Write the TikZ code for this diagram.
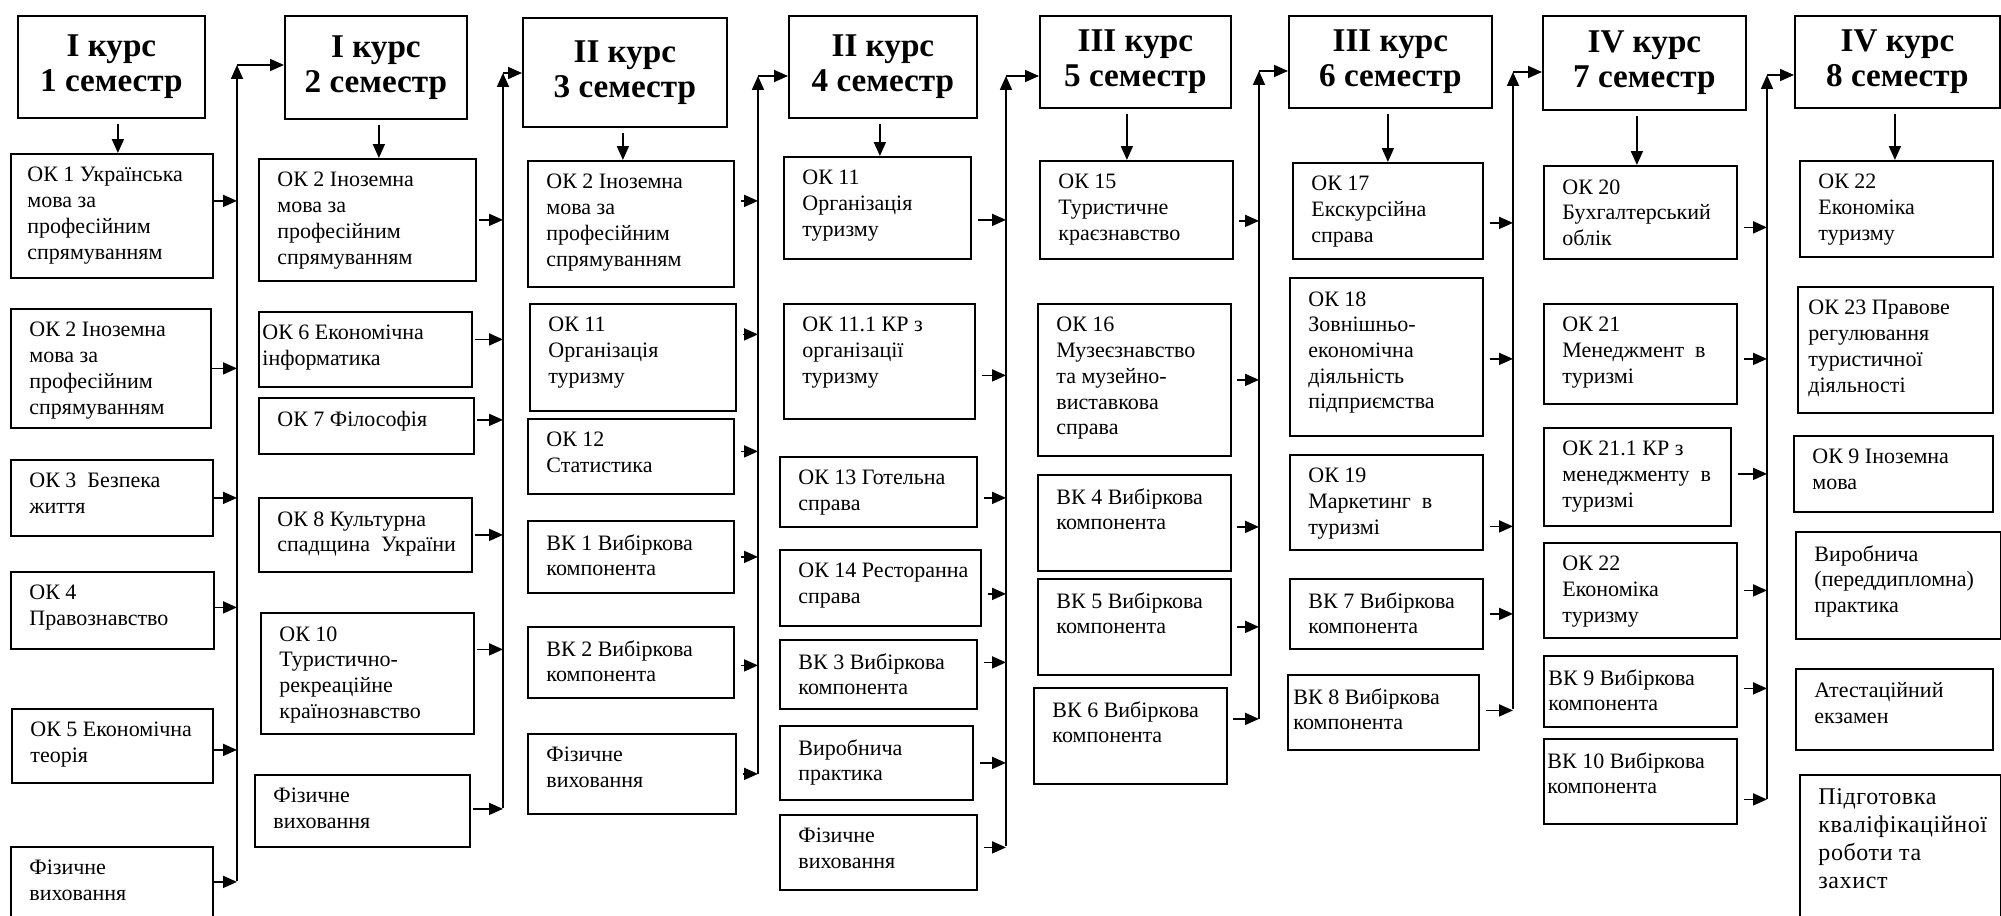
\documentclass[tikz,border=0pt]{standalone}
\usepackage{fontspec}
\setmainfont{Liberation Serif}
\newfontfamily\spacedfont[LetterSpace=2.5]{Liberation Serif}
\usetikzlibrary{arrows.meta, calc}
\tikzset{hdr/.style = {draw, line width=0.9pt, anchor=north west,
            align=center, inner sep=0pt,
            font=\fontsize{16.6}{17.5}\selectfont\bfseries},
    subj/.style = {draw, line width=0.9pt, anchor=north west, inner sep=0pt},
    subjtext/.style = {anchor=north west, align=left,
            inner xsep=9.5pt, inner ysep=7pt,
            font=\fontsize{11}{12.85}\selectfont},
    arr/.style = {-{Triangle[length=7pt,width=6pt]}, line width=0.9pt}}
% boxes: name, left, top, right, bottom (picture pixels), text
\newcommand\semhead[6]{%
  \node[hdr, minimum width={(#4-#2)*0.5pt}, minimum height={(#5-#3)*0.5pt}]
    (#1) at (#2,#3) {#6};}
\newcommand\subjbox[7][]{%
  \node[subj, minimum width={(#5-#3)*0.5pt}, minimum height={(#6-#4)*0.5pt}]
    (#2) at (#3,#4) {};
  \node[subjtext, #1] (#2t) at (#2.north west) {#7};}

\begin{document}
\begin{tikzpicture}[x=0.5pt, y=-0.5pt]
\useasboundingbox (0,0) rectangle (2001,915);

% semester 1
\semhead{h1}{17}{15}{204}{117}{I курс\\1 семестр}
\subjbox[inner xsep=8.5pt]{c1a}{10}{153}{212}{277}{ОК 1 Українська\\мова за\\професійним\\спрямуванням}
\subjbox{c1b}{10}{308}{210}{427}{ОК 2 Іноземна\\мова за\\професійним\\спрямуванням}
\subjbox{c1c}{10}{459}{212}{535}{ОК 3~~Безпека\\життя}
\subjbox{c1d}{10}{571}{213}{648}{ОК 4\\Правознавство}
\subjbox{c1e}{11}{708}{212}{782}{ОК 5 Економічна\\теорія}
\subjbox{c1f}{10}{846}{212}{930}{Фізичне\\виховання}

% semester 2
\semhead{h2}{284}{15}{466}{118}{I курс\\2 семестр}
\subjbox{c2a}{258}{158}{475}{280}{ОК 2 Іноземна\\мова за\\професійним\\спрямуванням}
\subjbox[inner xsep=2pt]{c2b}{258}{311}{471}{386}{ОК 6 Економічна\\інформатика}
\subjbox{c2c}{258}{397}{473}{453}{ОК 7 Філософія}
\subjbox{c2d}{258}{497}{471}{571}{ОК 8 Культурна\\спадщина~~України}
\subjbox{c2e}{260}{612}{473}{733}{ОК 10\\Туристично-\\рекреаційне\\країнознавство}
\subjbox{c2f}{254}{774}{469}{846}{Фізичне\\виховання}

% semester 3
\semhead{h3}{522}{17}{726}{126}{II курс\\3 семестр}
\subjbox{c3a}{527}{160}{733}{286}{ОК 2 Іноземна\\мова за\\професійним\\спрямуванням}
\subjbox{c3b}{529}{303}{735}{410}{ОК 11\\Організація\\туризму}
\subjbox{c3c}{527}{418}{733}{493}{ОК 12\\Статистика}
\subjbox{c3d}{527}{520}{733}{592}{ВК 1 Вибіркова\\компонента}
\subjbox{c3e}{527}{626}{733}{697}{ВК 2 Вибіркова\\компонента}
\subjbox{c3f}{527}{733}{735}{813}{Фізичне\\виховання}

% semester 4
\semhead{h4}{788}{15}{976}{117}{II курс\\4 семестр}
\subjbox{c4a}{783}{156}{970}{258}{ОК 11\\Організація\\туризму}
\subjbox{c4b}{783}{303}{974}{418}{ОК 11.1 КР з\\організації\\туризму}
\subjbox{c4c}{779}{456}{976}{526}{ОК 13 Готельна\\справа}
\subjbox{c4d}{779}{549}{980}{625}{ОК 14 Ресторанна\\справа}
\subjbox{c4e}{779}{639}{976}{708}{ВК 3 Вибіркова\\компонента}
\subjbox{c4f}{779}{725}{972}{799}{Виробнича\\практика}
\subjbox{c4g}{779}{814}{976}{889}{Фізичне\\виховання}

% semester 5
\semhead{h5}{1039}{15}{1230}{107}{III курс\\5 семестр}
\subjbox{c5a}{1039}{160}{1232}{258}{ОК 15\\Туристичне\\краєзнавство}
\subjbox{c5b}{1037}{303}{1230}{455}{ОК 16\\Музеєзнавство\\та музейно-\\виставкова\\справа}
\subjbox{c5c}{1037}{474}{1230}{570}{ВК 4 Вибіркова\\компонента}
\subjbox{c5d}{1037}{578}{1230}{674}{ВК 5 Вибіркова\\компонента}
\subjbox{c5e}{1033}{687}{1226}{783}{ВК 6 Вибіркова\\компонента}

% semester 6
\semhead{h6}{1288}{15}{1491}{107}{III курс\\6 семестр}
\subjbox{c6a}{1292}{162}{1482}{258}{ОК 17\\Екскурсійна\\справа}
\subjbox{c6b}{1289}{277}{1482}{435}{ОК 18\\Зовнішньо-\\економічна\\діяльність\\підприємства}
\subjbox{c6c}{1289}{454}{1482}{549}{ОК 19\\Маркетинг~~в\\туризмі}
\subjbox{c6d}{1289}{578}{1482}{648}{ВК 7 Вибіркова\\компонента}
\subjbox[inner xsep=3pt]{c6e}{1287}{674}{1478}{749}{ВК 8 Вибіркова\\компонента}

% semester 7
\semhead{h7}{1542}{15}{1745}{109}{IV курс\\7 семестр}
\subjbox{c7a}{1543}{165}{1736}{258}{ОК 20\\Бухгалтерський\\облік}
\subjbox{c7b}{1543}{303}{1736}{403}{ОК 21\\Менеджмент~~в\\туризмі}
\subjbox{c7c}{1543}{427}{1730}{525}{ОК 21.1 КР з\\менеджменту~~в\\туризмі}
\subjbox{c7d}{1543}{542}{1736}{637}{ОК 22\\Економіка\\туризму}
\subjbox[inner xsep=2.5pt]{c7e}{1543}{655}{1736}{726}{ВК 9 Вибіркова\\компонента}
\subjbox[inner xsep=2pt]{c7f}{1543}{738}{1736}{823}{ВК 10 Вибіркова\\компонента}

% semester 8
\semhead{h8}{1794}{15}{1999}{107}{IV курс\\8 семестр}
\subjbox{c8a}{1799}{160}{1992}{256}{ОК 22\\Економіка\\туризму}
\subjbox[inner xsep=5.5pt]{c8b}{1797}{286}{1992}{412}{ОК 23 Правове\\регулювання\\туристичної\\діяльності}
\subjbox{c8c}{1793}{435}{1992}{511}{ОК 9 Іноземна\\мова}
\subjbox{c8d}{1795}{531}{2000}{638}{Виробнича\\(переддипломна)\\практика}
\subjbox{c8e}{1795}{668}{1992}{749}{Атестаційний\\екзамен}
\subjbox[font=\spacedfont\fontsize{12}{14}\selectfont]{c8f}{1799}{774}{2000}{930}{Підготовка\\кваліфікаційної\\роботи та\\захист}

% collecting lines between semesters
\coordinate (b1top) at (237,65);   \coordinate (b1bot) at (237,881);
\coordinate (b2top) at (503,73);   \coordinate (b2bot) at (503,808);
\coordinate (b3top) at (758,76);   \coordinate (b3bot) at (758,774);
\coordinate (b4top) at (1006,76);  \coordinate (b4bot) at (1006,846);
\coordinate (b5top) at (1259,71);  \coordinate (b5bot) at (1259,719);
\coordinate (b6top) at (1513,72);  \coordinate (b6bot) at (1513,709);
\coordinate (b7top) at (1767,75);  \coordinate (b7bot) at (1767,799);

\foreach \h/\c/\d in {h1/c1a/6.5, h2/c2a/3, h3/c3a/-2, h4/c4a/-3,
                      h5/c5a/-8.5, h6/c6a/-2.5, h7/c7a/-7.5, h8/c8a/-2.5}
  \draw[arr] ($(\h.south)+(\d,5)$) coordinate (t) -- (t |- \c.north);

\foreach \n/\d in {c1a/-15, c1b/0, c1c/0, c1d/-3, c1e/4, c1f/-7}
  \draw[arr] ($(\n.east)+(0,\d)$) coordinate (s) -- (s -| b1top);
\foreach \n/\d in {c2a/0, c2b/-10, c2c/-6, c2d/0, c2e/-24, c2f/-2}
  \draw[arr, shorten <=1pt] ($(\n.east)+(0,\d)$) coordinate (s) -- (s -| b2top);
\foreach \n/\d in {c3a/-23, c3b/-23, c3c/-5, c3d/0, c3e/3, c3f/0}
  \draw[arr, shorten <=3pt] ($(\n.east)+(0,\d)$) coordinate (s) -- (s -| b3top);
\foreach \n/\d in {c4a/12, c4b/14, c4c/6, c4d/6, c4e/-12, c4f/0, c4g/-5}
  \draw[arr, shorten <=3pt] ($(\n.east)+(0,\d)$) coordinate (s) -- (s -| b4top);
\foreach \n/\d in {c5a/11, c5b/0, c5c/4, c5d/0, c5e/-17}
  \draw[arr, shorten <=2.5pt] ($(\n.east)+(0,\d)$) coordinate (s) -- (s -| b5top);
\foreach \n/\d in {c6a/12, c6b/2, c6c/24, c6d/0, c6e/-2}
  \draw[arr, shorten <=3pt] ($(\n.east)+(0,\d)$) coordinate (s) -- (s -| b6top);
\foreach \n/\d in {c7a/15, c7b/5, c7c/-3, c7d/0, c7e/-3, c7f/18}
  \draw[arr, shorten <=3pt] ($(\n.east)+(0,\d)$) coordinate (s) -- (s -| b7top);

\foreach \i/\j in {1/2, 2/3, 3/4, 4/5, 5/6, 6/7, 7/8} {
  \draw[arr] (b\i bot) -- (b\i top);
  \draw[arr] (b\i top) -- (b\i top -| h\j.west);
}
\end{tikzpicture}
\end{document}
